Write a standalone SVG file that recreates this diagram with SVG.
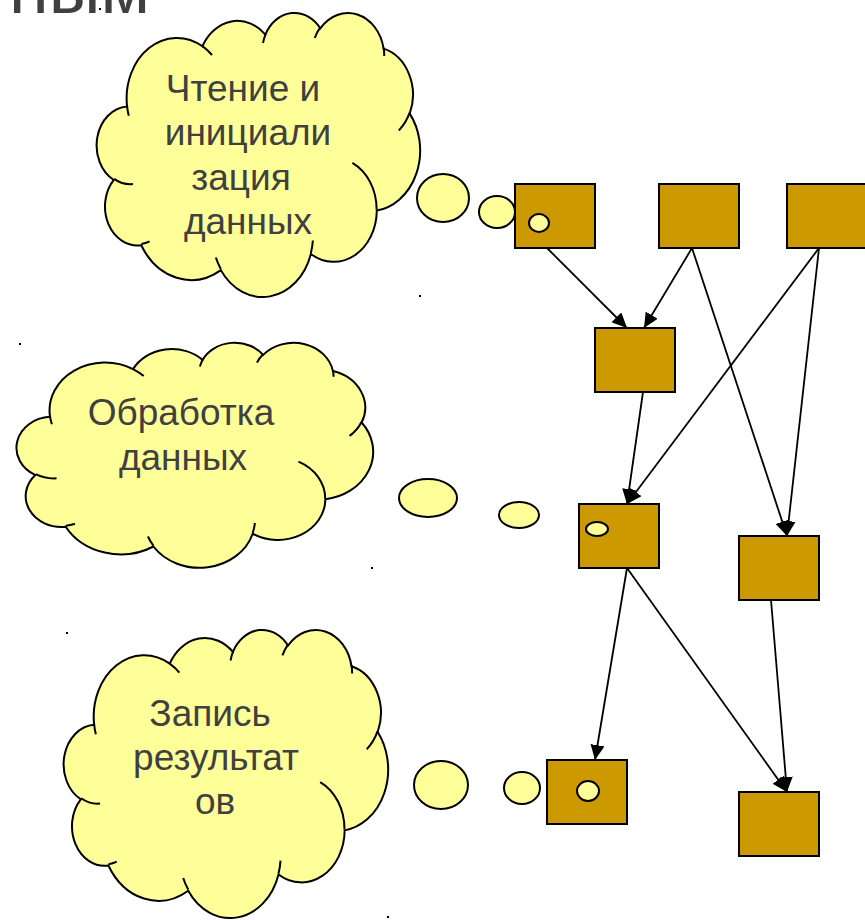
<svg xmlns="http://www.w3.org/2000/svg" xmlns:xlink="http://www.w3.org/1999/xlink" width="865" height="920" viewBox="0 0 865 920">
<style>
.cloud{fill:#FFFF99;stroke:#000;stroke-width:2}
.inner{fill:none;stroke:#000;stroke-width:2}
.bub{fill:#FFFF99;stroke:#000;stroke-width:2}
.box{fill:#CC9900;stroke:#000;stroke-width:2}
.lbl{font-family:"Liberation Sans",Arial,sans-serif;font-size:37px;fill:#404040;text-anchor:middle}
.edge{stroke:#000;stroke-width:1.8;fill:none;marker-end:url(#ah)}
.dot{fill:#000}
</style>
<defs>
<marker id="ah" markerUnits="userSpaceOnUse" markerWidth="16" markerHeight="14" refX="15" refY="7" orient="auto">
<path d="M0,0 L15,7 L0,14 z" fill="#000"/>
</marker>
<path id="cloudOut" vector-effect="non-scaling-stroke" d="M3900,14370 A6753,9190 0 0 1 14005,5202 A5333,7267 0 0 1 22456,3433 A4365,5945 0 0 1 29833,2481 A4857,6595 0 0 1 38318,5577 A5333,7273 0 0 1 41819,15460 A6775,9220 0 0 1 37405,30204 A5785,7867 0 0 1 28556,36814 A6752,9215 0 0 1 16481,39266 A7720,10543 0 0 1 5805,35472 A4360,5918 0 0 1 2113,25550 A4345,5945 0 0 1 3900,14370 Z"/>
<path id="cloudIn" vector-effect="non-scaling-stroke" d="M4693,26177 A4345,5945 0 0 1 2160,25380 M6928,34899 A4360,5918 0 0 1 5820,35281 M16478,39090 A6752,9215 0 0 1 15810,37349 M28827,34751 A6752,9215 0 0 1 28560,36660 M34129,22954 A5785,7867 0 0 1 37381,30090 M41798,15354 A5333,7273 0 0 1 40350,18030 M38324,5426 A4857,6595 0 0 1 38401,6690 M29078,3952 A4857,6595 0 0 1 29820,2339 M22141,4720 A4365,5945 0 0 1 22500,3330 M14000,5192 A6753,9190 0 0 1 15300,6541 M4127,15789 A6753,9190 0 0 1 3900,14371"/>
</defs>

<text x="150" y="13" style="font-family:'Liberation Sans',Arial,sans-serif;font-size:72px;fill:#404040;text-anchor:end">ным</text>

<g id="cloud-read">
<use xlink:href="#cloudOut" class="cloud" transform="translate(98,12) scale(0.0074537,0.0065741)"/>
<use xlink:href="#cloudIn" class="inner" transform="translate(98,12) scale(0.0074537,0.0065741)"/>
<text class="lbl" x="243" y="101">Чтение и</text>
<text class="lbl" x="248" y="145">инициали</text>
<text class="lbl" x="241" y="190">зация</text>
<text class="lbl" x="248" y="234">данных</text>
<ellipse class="bub" cx="443" cy="198" rx="26" ry="24"/>
<ellipse class="bub" cx="497" cy="212" rx="18" ry="16"/>
</g>

<g id="cloud-process">
<use xlink:href="#cloudOut" class="cloud" transform="translate(18,342) scale(0.0082176,0.0052083)"/>
<use xlink:href="#cloudIn" class="inner" transform="translate(18,342) scale(0.0082176,0.0052083)"/>
<text class="lbl" x="181" y="425">Обработка</text>
<text class="lbl" x="183" y="470">данных</text>
<ellipse class="bub" cx="428" cy="498" rx="29" ry="19"/>
<ellipse class="bub" cx="519" cy="515" rx="20" ry="13"/>
</g>

<g id="cloud-write">
<use xlink:href="#cloudOut" class="cloud" transform="translate(65,629) scale(0.0074769,0.0066667)"/>
<use xlink:href="#cloudIn" class="inner" transform="translate(65,629) scale(0.0074769,0.0066667)"/>
<text class="lbl" x="210" y="726">Запись</text>
<text class="lbl" x="216" y="770">результат</text>
<text class="lbl" x="215" y="814">ов</text>
<ellipse class="bub" cx="441" cy="785" rx="27" ry="24"/>
<ellipse class="bub" cx="522" cy="788" rx="18" ry="16"/>
</g>

<g id="connectors">
<line class="edge" x1="547" y1="248" x2="627" y2="328"/>
<line class="edge" x1="692" y1="248" x2="644" y2="328"/>
<line class="edge" x1="692" y1="248" x2="787" y2="536"/>
<line class="edge" x1="819" y1="248" x2="627" y2="504"/>
<line class="edge" x1="819" y1="248" x2="787" y2="536"/>
<line class="edge" x1="643" y1="392" x2="627" y2="504"/>
<line class="edge" x1="627" y1="568" x2="595" y2="760"/>
<line class="edge" x1="627" y1="568" x2="787" y2="792"/>
<line class="edge" x1="771" y1="600" x2="787" y2="792"/>
</g>

<g id="b1"><rect class="box" x="515" y="184" width="80" height="64"/><ellipse class="bub" cx="539" cy="223" rx="10" ry="9"/></g>
<g id="b2"><rect class="box" x="659" y="184" width="80" height="64"/></g>
<g id="b3"><rect class="box" x="787" y="184" width="80" height="64"/></g>
<g id="b4"><rect class="box" x="595" y="328" width="80" height="64"/></g>
<g id="b5"><rect class="box" x="579" y="504" width="80" height="64"/><ellipse class="bub" cx="597" cy="529" rx="11" ry="7"/></g>
<g id="b6"><rect class="box" x="739" y="536" width="80" height="64"/></g>
<g id="b7"><rect class="box" x="547" y="760" width="80" height="64"/><ellipse class="bub" cx="588" cy="791" rx="11" ry="10"/></g>
<g id="b8"><rect class="box" x="739" y="792" width="80" height="64"/></g>

<rect class="dot" x="99" y="8" width="2" height="2"/>
<rect class="dot" x="419" y="295" width="2" height="2"/>
<rect class="dot" x="19" y="343" width="2" height="2"/>
<rect class="dot" x="371" y="567" width="2" height="2"/>
<rect class="dot" x="66" y="632" width="2" height="2"/>
<rect class="dot" x="387" y="916" width="2" height="2"/>
</svg>
